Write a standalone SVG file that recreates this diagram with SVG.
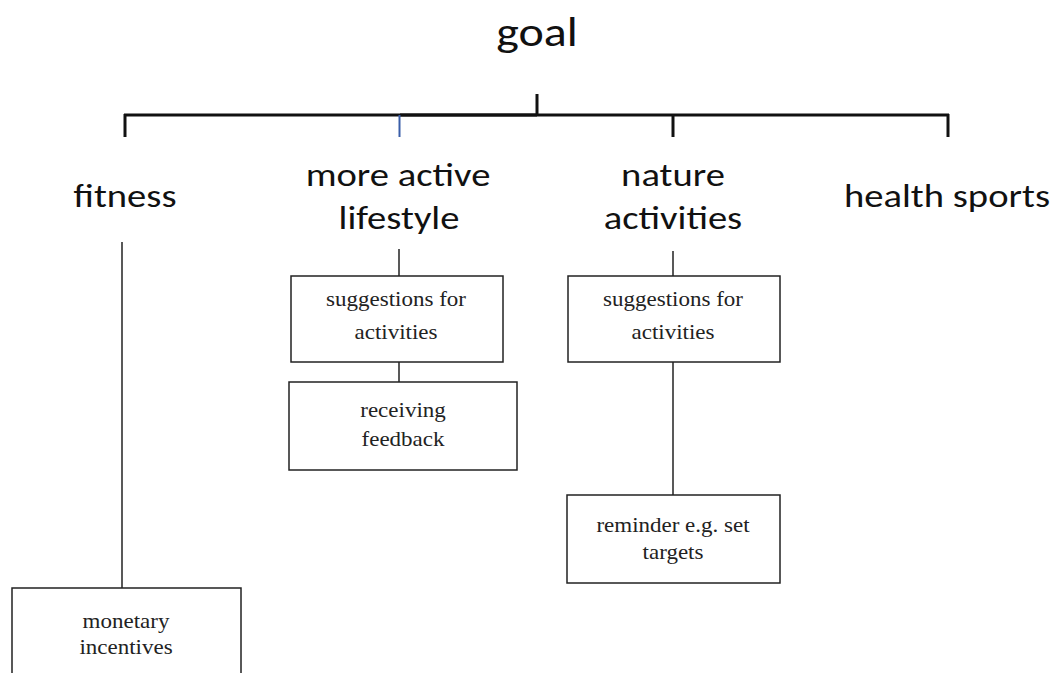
<svg xmlns="http://www.w3.org/2000/svg" width="1054" height="673" viewBox="0 0 1054 673">
  <style>
    .head { font-family: Carlito, Lato, "Open Sans", sans-serif; font-size: 33px; fill: #111; text-anchor: middle; }
    .title { font-family: Carlito, Lato, "Open Sans", sans-serif; font-size: 41px; fill: #111; text-anchor: middle; }
    .box rect { fill: #fff; stroke: #222; stroke-width: 1.5; }
    .box text { font-family: "Liberation Serif", serif; font-size: 20px; fill: #222; text-anchor: middle; }
    .link { stroke: #222; stroke-width: 1.5; fill: none; }
    .bar { stroke: #111; stroke-width: 3; fill: none; }
  </style>
  <rect width="1054" height="673" fill="#fff"/>

  <g id="connectors">
    <!-- top bracket -->
    <line class="bar" x1="537" y1="94" x2="537" y2="115"/>
    <line class="bar" x1="124" y1="115" x2="949" y2="115"/>
    <line class="bar" x1="400" y1="115" x2="537" y2="115" stroke="#2a3d66"/>
    <line class="bar" x1="125" y1="114" x2="125" y2="137"/>
    <line x1="399.5" y1="115" x2="399.5" y2="137" stroke="#3a5ea8" stroke-width="2"/>
    <line class="bar" x1="673" y1="114" x2="673" y2="137"/>
    <line class="bar" x1="948" y1="114" x2="948" y2="137"/>
    <!-- branch lines -->
    <line class="link" x1="122" y1="242" x2="122" y2="588"/>
    <line class="link" x1="399" y1="249" x2="399" y2="276"/>
    <line class="link" x1="399" y1="362" x2="399" y2="382"/>
    <line class="link" x1="673" y1="251" x2="673" y2="276"/>
    <line class="link" x1="673" y1="362" x2="673" y2="495"/>
  </g>

  <g id="goal"><text class="title" transform="translate(537 46) scale(1.17 1)">goal</text></g>
  <g id="fitness"><text class="head" transform="translate(125 207) scale(1.17 1)">fitness</text></g>
  <g id="active-lifestyle">
    <text class="head" transform="translate(398 186) scale(1.17 1)">more active</text>
    <text class="head" transform="translate(399 229) scale(1.17 1)">lifestyle</text>
  </g>
  <g id="nature-activities">
    <text class="head" transform="translate(673 186) scale(1.17 1)">nature</text>
    <text class="head" transform="translate(673 229) scale(1.17 1)">activities</text>
  </g>
  <g id="health-sports"><text class="head" transform="translate(947 207) scale(1.17 1)">health sports</text></g>

  <g id="lifestyle-suggestions" class="box">
    <rect x="291" y="276" width="212" height="86"/>
    <text transform="translate(396 306) scale(1.15 1)">suggestions for</text>
    <text transform="translate(396 339) scale(1.15 1)">activities</text>
  </g>
  <g id="receiving-feedback" class="box">
    <rect x="289" y="382" width="228" height="88"/>
    <text transform="translate(403 417) scale(1.15 1)">receiving</text>
    <text transform="translate(403 446) scale(1.15 1)">feedback</text>
  </g>
  <g id="nature-suggestions" class="box">
    <rect x="568" y="276" width="212" height="86"/>
    <text transform="translate(673 306) scale(1.15 1)">suggestions for</text>
    <text transform="translate(673 339) scale(1.15 1)">activities</text>
  </g>
  <g id="reminder" class="box">
    <rect x="567" y="495" width="213" height="88"/>
    <text transform="translate(673 532) scale(1.15 1)">reminder e.g. set</text>
    <text transform="translate(673 559) scale(1.15 1)">targets</text>
  </g>
  <g id="monetary-incentives" class="box">
    <rect x="12" y="588" width="229" height="100"/>
    <text transform="translate(126 628) scale(1.15 1)">monetary</text>
    <text transform="translate(126 654) scale(1.15 1)">incentives</text>
  </g>
</svg>
